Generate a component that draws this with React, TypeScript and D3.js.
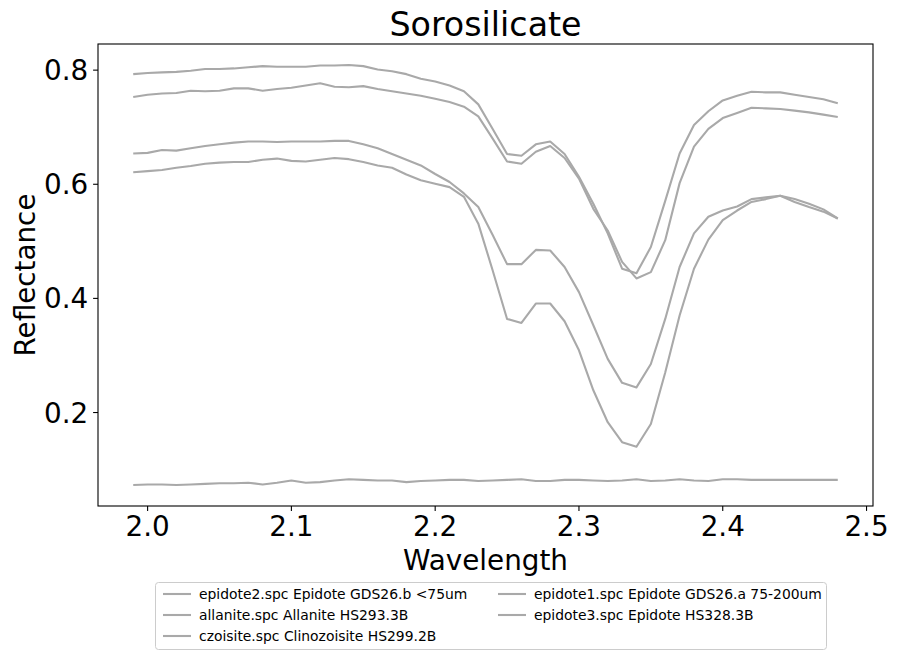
import React, { useEffect, useRef } from 'react'
import * as d3 from 'd3'

// wavelength grid (um)
const wavelength = [
  1.99, 2.00, 2.01, 2.02, 2.03, 2.04, 2.05, 2.06, 2.07, 2.08,
  2.09, 2.10, 2.11, 2.12, 2.13, 2.14, 2.15, 2.16, 2.17, 2.18,
  2.19, 2.20, 2.21, 2.22, 2.23, 2.24, 2.25, 2.26, 2.27, 2.28,
  2.29, 2.30, 2.31, 2.32, 2.33, 2.34, 2.35, 2.36, 2.37, 2.38,
  2.39, 2.40, 2.41, 2.42, 2.43, 2.44, 2.45, 2.46, 2.47, 2.48,
]

const epidote2 = [
  0.793, 0.795, 0.796, 0.797, 0.799, 0.802, 0.802, 0.803, 0.805, 0.807,
  0.806, 0.806, 0.806, 0.808, 0.808, 0.809, 0.807, 0.801, 0.798, 0.793,
  0.785, 0.780, 0.773, 0.763, 0.740, 0.697, 0.653, 0.650, 0.670, 0.675,
  0.653, 0.613, 0.566, 0.514, 0.452, 0.444, 0.490, 0.571, 0.654, 0.704,
  0.728, 0.747, 0.755, 0.762, 0.761, 0.761, 0.757, 0.753, 0.749, 0.742,
]

const allanite = [
  0.073, 0.074, 0.074, 0.073, 0.074, 0.075, 0.076, 0.076, 0.077, 0.074,
  0.077, 0.081, 0.077, 0.078, 0.081, 0.083, 0.082, 0.081, 0.081, 0.078,
  0.080, 0.081, 0.082, 0.082, 0.080, 0.081, 0.082, 0.083, 0.080, 0.080,
  0.082, 0.082, 0.081, 0.080, 0.081, 0.083, 0.080, 0.081, 0.083, 0.081,
  0.080, 0.083, 0.083, 0.082, 0.082, 0.082, 0.082, 0.082, 0.082, 0.082,
]

const czoisite = [
  0.753, 0.757, 0.759, 0.760, 0.764, 0.763, 0.764, 0.768, 0.768, 0.764,
  0.767, 0.769, 0.773, 0.777, 0.771, 0.770, 0.772, 0.767, 0.763, 0.759,
  0.755, 0.750, 0.744, 0.736, 0.719, 0.680, 0.640, 0.636, 0.657, 0.667,
  0.646, 0.610, 0.557, 0.519, 0.464, 0.435, 0.446, 0.502, 0.602, 0.666,
  0.697, 0.716, 0.725, 0.734, 0.733, 0.732, 0.729, 0.726, 0.722, 0.718,
]

const epidote1 = [
  0.654, 0.655, 0.660, 0.659, 0.663, 0.667, 0.670, 0.673, 0.675, 0.675,
  0.674, 0.675, 0.675, 0.675, 0.676, 0.676, 0.670, 0.663, 0.653, 0.643,
  0.633, 0.618, 0.604, 0.584, 0.560, 0.511, 0.460, 0.460, 0.485, 0.484,
  0.455, 0.411, 0.353, 0.294, 0.252, 0.244, 0.285, 0.364, 0.455, 0.514,
  0.543, 0.554, 0.561, 0.574, 0.577, 0.580, 0.569, 0.560, 0.552, 0.540,
]

const epidote3 = [
  0.621, 0.623, 0.625, 0.629, 0.632, 0.636, 0.638, 0.639, 0.639, 0.643,
  0.645, 0.641, 0.640, 0.643, 0.646, 0.644, 0.639, 0.633, 0.629, 0.617,
  0.607, 0.601, 0.595, 0.578, 0.531, 0.449, 0.364, 0.357, 0.391, 0.391,
  0.360, 0.309, 0.239, 0.183, 0.148, 0.140, 0.180, 0.270, 0.370, 0.452,
  0.503, 0.537, 0.554, 0.569, 0.574, 0.580, 0.574, 0.566, 0.556, 0.540,
]

const seriesNames = [
  'epidote2.spc Epidote GDS26.b <75um',
  'allanite.spc Allanite HS293.3B',
  'czoisite.spc Clinozoisite HS299.2B',
  'epidote1.spc Epidote GDS26.a 75-200um',
  'epidote3.spc Epidote HS328.3B',
]
const seriesValues = [epidote2, allanite, czoisite, epidote1, epidote3]

const xTicks = [2.0, 2.1, 2.2, 2.3, 2.4, 2.5]
const yTicks = [0.2, 0.4, 0.6, 0.8]

const W = 899
const H = 659
const FONT = 'DejaVu Sans, sans-serif'

export default function App() {
  const ref = useRef<SVGSVGElement>(null)

  useEffect(() => {
    const svg = d3.select(ref.current)
    svg.selectAll('*').remove()

    // axes box
    const left = 98, right = 873, top = 44, bottom = 506

    const [x0, x1] = d3.extent(wavelength) as [number, number]
    const xPad = (x1 - x0) * 0.05
    const x = d3.scaleLinear().domain([x0 - xPad, x1 + xPad]).range([left, right])

    const all = seriesValues.flat()
    const y0 = d3.min(all) as number
    const y1 = d3.max(all) as number
    const yPad = (y1 - y0) * 0.05
    const y = d3.scaleLinear().domain([y0 - yPad, y1 + yPad]).range([bottom, top])

    svg.append('rect').attr('width', W).attr('height', H).attr('fill', 'white')

    const line = d3.line<number>()
      .x((d, i) => x(wavelength[i]))
      .y(d => y(d))

    const plot = svg.append('g')
    seriesValues.forEach(vals => {
      plot.append('path')
        .datum(vals)
        .attr('d', line)
        .attr('fill', 'none')
        .attr('stroke', '#a9a9a9')
        .attr('stroke-width', 2.1)
        .attr('stroke-linejoin', 'round')
    })

    // frame
    svg.append('rect')
      .attr('x', left).attr('y', top)
      .attr('width', right - left).attr('height', bottom - top)
      .attr('fill', 'none').attr('stroke', 'black').attr('stroke-width', 1.1)

    // x ticks
    const xg = svg.append('g')
    xTicks.forEach(t => {
      xg.append('line')
        .attr('x1', x(t)).attr('x2', x(t))
        .attr('y1', bottom).attr('y2', bottom + 4.9)
        .attr('stroke', 'black').attr('stroke-width', 1.1)
      xg.append('text')
        .attr('x', x(t)).attr('y', bottom + 30)
        .attr('text-anchor', 'middle')
        .attr('font-family', FONT).attr('font-size', 27.8)
        .text(t.toFixed(1))
    })

    // y ticks
    const yg = svg.append('g')
    yTicks.forEach(t => {
      yg.append('line')
        .attr('x1', left - 4.9).attr('x2', left)
        .attr('y1', y(t)).attr('y2', y(t))
        .attr('stroke', 'black').attr('stroke-width', 1.1)
      yg.append('text')
        .attr('x', left - 9.8).attr('y', y(t))
        .attr('dy', '0.36em')
        .attr('text-anchor', 'end')
        .attr('font-family', FONT).attr('font-size', 27.8)
        .text(t.toFixed(1))
    })

    // labels + title
    const cx = (left + right) / 2
    svg.append('text')
      .attr('x', cx).attr('y', 36)
      .attr('text-anchor', 'middle')
      .attr('font-family', FONT).attr('font-size', 33.3)
      .text('Sorosilicate')
    svg.append('text')
      .attr('x', cx).attr('y', 570)
      .attr('text-anchor', 'middle')
      .attr('font-family', FONT).attr('font-size', 27.8)
      .text('Wavelength')
    svg.append('text')
      .attr('transform', `translate(35, ${(top + bottom) / 2}) rotate(-90)`)
      .attr('text-anchor', 'middle')
      .attr('font-family', FONT).attr('font-size', 27.8)
      .text('Reflectance')

    // legend (2 columns, column-first)
    const lg = svg.append('g')
    lg.append('rect')
      .attr('x', 155.5).attr('y', 582.5)
      .attr('width', 671).attr('height', 67)
      .attr('rx', 3)
      .attr('fill', 'white').attr('fill-opacity', 0.8)
      .attr('stroke', '#cccccc').attr('stroke-width', 1)
    const colX = [163, 498]
    const rowY = [594, 615, 636]
    seriesNames.forEach((name, i) => {
      const col = i < 3 ? 0 : 1
      const row = i < 3 ? i : i - 3
      lg.append('line')
        .attr('x1', colX[col]).attr('x2', colX[col] + 28)
        .attr('y1', rowY[row]).attr('y2', rowY[row])
        .attr('stroke', '#a9a9a9').attr('stroke-width', 2.1)
      lg.append('text')
        .attr('x', colX[col] + 36).attr('y', rowY[row])
        .attr('dy', '0.36em')
        .attr('font-family', FONT).attr('font-size', 13.9)
        .text(name)
    })
  }, [])

  return (
    <svg ref={ref} width={W} height={H}
      style={{ position: 'absolute', left: 0, top: 0, display: 'block' }} />
  )
}
